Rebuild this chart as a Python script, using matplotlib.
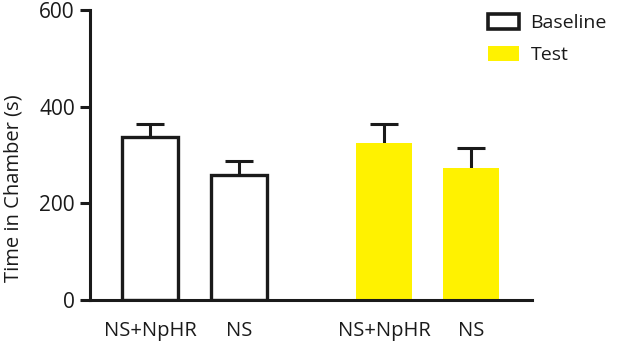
import numpy as np
import matplotlib.pyplot as plt
from matplotlib.patches import Patch

plt.rcParams['font.family'] = ['Open Sans', 'DejaVu Sans']

# datos
labels = ['NS+NpHR', 'NS', 'NS+NpHR', 'NS']
baseline = [337, 259]
baseline_err = [27, 29]
test = [325, 273]
test_err = [39, 41]

pos_base = np.array([0, 1.01])
pos_test = np.array([2.66, 3.65])
ancho = 0.63
cap = 0.16
negro = '#1a1a1a'

fig = plt.figure(figsize=(6.17, 3.43), dpi=100)
ax = fig.add_axes([0.146, 0.125, 0.716, 0.846])

ax.bar(pos_base, baseline, width=ancho, color='white', edgecolor=negro,
       linewidth=2.4, zorder=2)
ax.bar(pos_test, test, width=ancho, color='#fff200', edgecolor='none', zorder=2)

# barras de error solo hacia arriba
medias = np.array(baseline + test)
errores = np.array(baseline_err + test_err)
posiciones = np.concatenate([pos_base, pos_test])
ax.vlines(posiciones, medias, medias + errores, color=negro, linewidth=2.2, zorder=1)
ax.hlines(medias + errores, posiciones - cap, posiciones + cap, color=negro,
          linewidth=2.2, zorder=1)

ax.set_xlim(-0.68, 4.34)
ax.set_ylim(0, 600)
ax.set_yticks([0, 200, 400, 600])
ax.set_xticks(posiciones)
ax.set_xticklabels(labels)
ax.tick_params(axis='x', length=0, pad=15, labelsize=14.5, colors=negro)
ax.tick_params(axis='y', length=7, width=2.2, pad=4, labelsize=15, colors=negro)
ax.set_ylabel('Time in Chamber (s)', fontsize=14.5, color=negro)
ax.yaxis.set_label_coords(-0.15, 0.385)

for s in ['top', 'right']:
    ax.spines[s].set_visible(False)
for s in ['left', 'bottom']:
    ax.spines[s].set_linewidth(2.2)
    ax.spines[s].set_color(negro)

handles = [Patch(facecolor='white', edgecolor=negro, linewidth=2.6, label='Baseline'),
           Patch(facecolor='#fff200', edgecolor='none', label='Test')]
fig.legend(handles=handles, loc='upper left', bbox_to_anchor=(0.762, 1.01),
           frameon=False, fontsize=14, handlelength=1.6, handleheight=0.8,
           labelspacing=0.7, handletextpad=0.6, labelcolor=negro)

fig.savefig('out.png', dpi=100)
